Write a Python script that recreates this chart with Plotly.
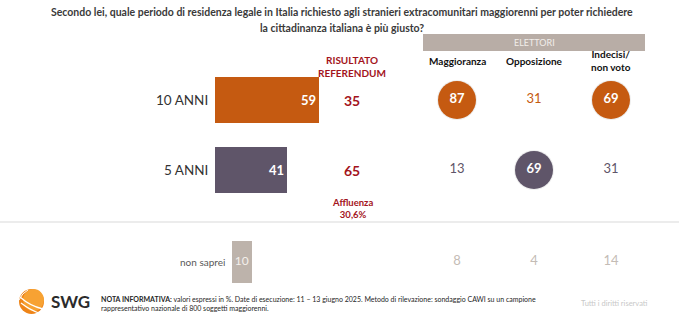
import plotly.graph_objects as go

W, H = 679, 322

# ---------------- data ----------------
title_lines = ["Secondo lei, quale periodo di residenza legale in Italia richiesto agli stranieri extracomunitari maggiorenni per poter richiedere",
               "la cittadinanza italiana è più giusto?"]
rows = ["10 ANNI", "5 ANNI"]
totale = [59, 41]
ns_label = ["non saprei"]
ns_totale = [10]
referendum = [35, 65]
affluenza_label = "Affluenza"
affluenza_val = "30,6%"
gruppi = ["Maggioranza", "Opposizione", "Indecisi/<br>non voto"]
el_10 = [87, 31, 69]
el_5 = [13, 69, 31]
el_ns = [8, 4, 14]
header_el = "ELETTORI"
header_ref = "RISULTATO<br>REFERENDUM"
nota_bold = "NOTA INFORMATIVA:"
nota_text = (" valori espressi in %. Date di esecuzione: 11 – 13 giugno 2025. Metodo di rilevazione: sondaggio CAWI su un campione<br>"
             "rappresentativo nazionale di 800 soggetti maggiorenni.")
diritti = "Tutti i diritti riservati"

# ---------------- styles ----------------
FONT = "Lato"
ORANGE = "#C55A11"
PURPLE = "#5F5569"
TAUPE = "#BDB3AB"
RED = "#A3141C"
DARK = "#3A3A3A"
LIGHT = "#C4BCB5"


def px(x):
    return x / W


def py(y):
    return 1 - y / H


fig = go.Figure()

# main bars
fig.add_trace(go.Bar(
    y=rows, x=totale, orientation="h", width=0.66,
    marker=dict(color=[ORANGE, PURPLE], line=dict(width=0)),
    text=["<b>%d</b>" % v for v in totale], textposition="inside", insidetextanchor="end",
    textfont=dict(family=FONT, size=13, color="white"),
    xaxis="x", yaxis="y", showlegend=False, hoverinfo="skip"))

# non saprei bar
fig.add_trace(go.Bar(
    y=ns_label, x=ns_totale, orientation="h", width=0.6,
    marker=dict(color=TAUPE, line=dict(width=0)),
    xaxis="x2", yaxis="y2", showlegend=False, hoverinfo="skip"))
fig.add_trace(go.Scatter(
    y=ns_label, x=[v / 2 for v in ns_totale], mode="text",
    text=[str(v) for v in ns_totale],
    textfont=dict(family=FONT, size=12, color="#F4F0EC"),
    xaxis="x2", yaxis="y2", showlegend=False, hoverinfo="skip"))

# elettori circles + numbers
for row, vals, col in [(rows[0], el_10, ORANGE), (rows[1], el_5, PURPLE)]:
    big = [v > 50 for v in vals]
    # soft shadow
    fig.add_trace(go.Scatter(
        x=gruppi, y=[row] * len(vals), mode="markers",
        marker=dict(size=[40 if b else 0 for b in big], color="rgba(0,0,0,0.07)",
                    opacity=1, line=dict(width=0)),
        xaxis="x3", yaxis="y", showlegend=False, hoverinfo="skip"))
    fig.add_trace(go.Scatter(
        x=gruppi, y=[row] * len(vals), mode="markers+text",
        marker=dict(size=[38 if b else 0 for b in big], color=col, opacity=1, line=dict(width=0)),
        text=[("<b>%d</b>" % v) if b else str(v) for v, b in zip(vals, big)],
        textposition="middle center",
        textfont=dict(family=FONT, size=13,
                      color=["white" if b else col for b in big]),
        xaxis="x3", yaxis="y", showlegend=False, hoverinfo="skip"))

fig.add_trace(go.Scatter(
    x=gruppi, y=ns_label * len(el_ns), mode="text",
    text=[str(v) for v in el_ns],
    textfont=dict(family=FONT, size=13, color=LIGHT),
    xaxis="x3", yaxis="y2", showlegend=False, hoverinfo="skip"))

# ---------------- axes ----------------
hidden = dict(visible=False, showgrid=False, zeroline=False, fixedrange=True)
fig.update_layout(
    width=W, height=H, margin=dict(l=0, r=0, t=0, b=0),
    paper_bgcolor="white", plot_bgcolor="rgba(0,0,0,0)",
    xaxis=dict(domain=[px(215), px(391)], range=[0, 100], anchor="y", **hidden),
    yaxis=dict(domain=[py(205), py(65)], type="category", categoryorder="array",
               categoryarray=rows, range=[1.5, -0.5], anchor="x", **hidden),
    xaxis2=dict(domain=[px(232), px(408)], range=[0, 90], anchor="y2", **hidden),
    yaxis2=dict(domain=[py(297), py(227)], type="category", range=[0.5, -0.5], anchor="x2", **hidden),
    xaxis3=dict(domain=[px(418.5), px(649.5)], type="category", categoryorder="array",
                categoryarray=gruppi, range=[-0.5, 2.5], anchor="y", **hidden),
    bargap=0,
)

ann = []
# title
for i, t in enumerate(title_lines):
    ann.append(dict(x=px(342), y=py(12 + 16 * i), xref="paper", yref="paper", text="<b>" + t + "</b>",
                    showarrow=False, xanchor="center", yanchor="middle",
                    font=dict(family=FONT, size=10.5, color=DARK)))
# row labels
for r in rows:
    ann.append(dict(x=px(210), y=r, xref="paper", yref="y", text=r, showarrow=False,
                    xanchor="right", yanchor="middle", font=dict(family=FONT, size=13.5, color="#333333")))
ann.append(dict(x=px(227), y=ns_label[0], xref="paper", yref="y2", text=ns_label[0], showarrow=False,
                xanchor="right", yanchor="middle", font=dict(family=FONT, size=10, color="#595959")))
# referendum
ann.append(dict(x=px(352), y=py(66), xref="paper", yref="paper", text="<b>" + header_ref + "</b>",
                showarrow=False, xanchor="center", yanchor="middle",
                font=dict(family=FONT, size=10, color=RED)))
for r, v in zip(rows, referendum):
    ann.append(dict(x=px(352), y=r, xref="paper", yref="y", text="<b>%d</b>" % v, showarrow=False,
                    xanchor="center", yanchor="middle", font=dict(family=FONT, size=14, color=RED)))
ann.append(dict(x=px(352), y=py(209), xref="paper", yref="paper",
                text="<b>%s<br>%s</b>" % (affluenza_label, affluenza_val), showarrow=False,
                xanchor="center", yanchor="middle", font=dict(family=FONT, size=9.5, color=RED)))
# elettori header
ann.append(dict(x=px(534), y=py(42.5), xref="paper", yref="paper", text=header_el, showarrow=False,
                xanchor="center", yanchor="middle", font=dict(family=FONT, size=9, color="#F2EEEA")))
for g in gruppi:
    ann.append(dict(x=g, y=py(61), xref="x3", yref="paper", text="<b>" + g + "</b>", showarrow=False,
                    xanchor="center", yanchor="middle",
                    font=dict(family=FONT, size=10, color="#111111")))
# footer
ann.append(dict(x=px(49), y=py(301), xref="paper", yref="paper", text="<b>SWG</b>", showarrow=False,
                xanchor="left", yanchor="middle", font=dict(family=FONT, size=17, color="#2B2B2B")))
ann.append(dict(x=px(99), y=py(303), xref="paper", yref="paper",
                text="<b>" + nota_bold + "</b>" + nota_text, showarrow=False, align="left",
                xanchor="left", yanchor="middle", font=dict(family=FONT, size=7, color="#262626")))
ann.append(dict(x=px(614), y=py(303), xref="paper", yref="paper", text=diritti, showarrow=False,
                xanchor="center", yanchor="middle", font=dict(family=FONT, size=7.5, color="#C8C8C8")))

shapes = [
    dict(type="rect", xref="paper", yref="paper", x0=px(423), x1=px(645), y0=py(51), y1=py(34),
         fillcolor="#B8ADA6", line=dict(width=0), layer="below"),
    dict(type="line", xref="paper", yref="paper", x0=0, x1=1, y0=py(222), y1=py(222),
         line=dict(color="#D9D9D9", width=1.2)),
    # logo
    dict(type="circle", xref="paper", yref="paper", x0=px(19), x1=px(44), y0=py(314), y1=py(289),
         fillcolor="#EE8418", line=dict(width=0)),
    dict(type="circle", xref="paper", yref="paper", x0=px(23), x1=px(44), y0=py(311), y1=py(289),
         fillcolor="#F7A233", line=dict(width=0)),
    dict(type="path", xref="paper", yref="paper",
         path="M %f,%f Q %f,%f %f,%f" % (px(20), py(297), px(30), py(306), px(43), py(309)),
         line=dict(color="white", width=1.3)),
    dict(type="path", xref="paper", yref="paper",
         path="M %f,%f Q %f,%f %f,%f" % (px(21), py(303), px(30), py(310), px(39), py(313)),
         line=dict(color="white", width=1.3)),
    dict(type="path", xref="paper", yref="paper",
         path="M %f,%f Q %f,%f %f,%f" % (px(19), py(300), px(22), py(293), px(28), py(290)),
         line=dict(color="white", width=1.0)),
]

fig.update_layout(annotations=ann, shapes=shapes)
fig.write_html("out.html")
